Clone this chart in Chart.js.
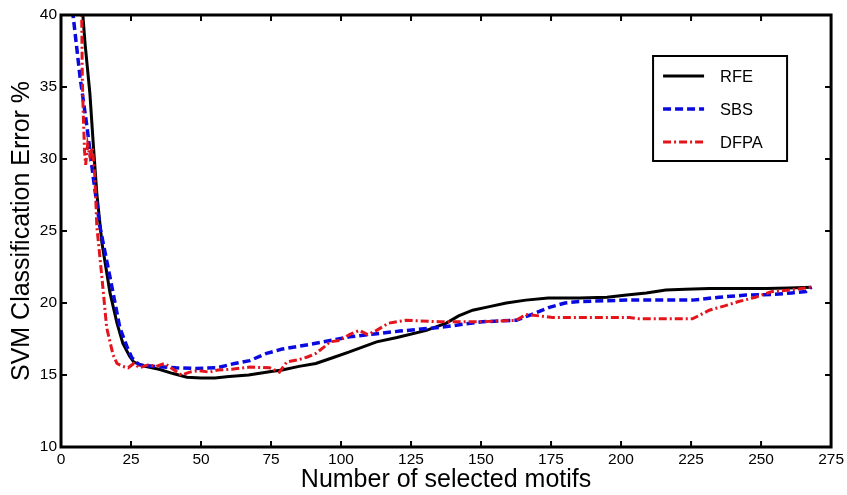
<!DOCTYPE html>
<html>
<head>
<meta charset="utf-8">
<script src="https://cdn.jsdelivr.net/npm/chart.js@4/dist/chart.umd.min.js"></script>
<style>
  html, body { margin: 0; padding: 0; background: #fff; }
  #wrap { width: 847px; height: 495px; position: relative; }
</style>
</head>
<body>
<div id="wrap"><canvas id="c"></canvas></div>
<script>
// ---- data ----
const seriesNames = ['RFE', 'SBS', 'DFPA'];
const xTicks = [0, 25, 50, 75, 100, 125, 150, 175, 200, 225, 250, 275];
const yTicks = [10, 15, 20, 25, 30, 35, 40];

const rfeX = [7, 7.8, 8.6, 10.3, 11.5, 12.8, 14.6, 17.5, 20, 22.1, 24.5, 26, 30, 35, 40, 45, 50, 55, 60, 67, 75, 79, 85, 91, 97, 103, 112.7, 120, 130.5, 137.6, 142, 147, 153, 159, 166, 174, 185, 195, 202, 209, 216, 223, 231.5, 240, 252, 260, 268];
const rfeY = [41.5, 40, 38, 34.6, 31.1, 27.6, 24.2, 20.7, 18.6, 17.2, 16.3, 15.9, 15.6, 15.4, 15.1, 14.85, 14.8, 14.8, 14.9, 15.0, 15.25, 15.35, 15.6, 15.8, 16.2, 16.6, 17.3, 17.6, 18.1, 18.6, 19.1, 19.5, 19.75, 20.0, 20.2, 20.35, 20.35, 20.4, 20.55, 20.7, 20.9, 20.95, 21.0, 21.0, 21.0, 21.05, 21.1];

const sbsX = [3.5, 4.3, 6.8, 9.3, 11.5, 13.9, 17.5, 21, 23.5, 25.3, 28, 33, 41, 48, 55.6, 62, 67.4, 73.4, 79, 91, 103, 112, 121, 135, 150.5, 162.6, 168, 174.4, 180, 185, 202, 225.5, 235, 244.6, 255, 261, 266, 268];
const sbsY = [42, 40, 35.7, 32.2, 28.75, 25.3, 21.8, 18.3, 17.0, 16.2, 15.7, 15.6, 15.5, 15.45, 15.5, 15.8, 16.0, 16.5, 16.8, 17.2, 17.65, 17.85, 18.05, 18.3, 18.7, 18.8, 19.2, 19.7, 20.0, 20.1, 20.2, 20.2, 20.4, 20.55, 20.6, 20.7, 20.8, 21.1];

const dfpaX = [6.8, 7.4, 7.6, 7.9, 8.4, 8.8, 9.5, 10.3, 11.2, 12.1, 12.8, 14.6, 16.3, 18.6, 20, 22, 24, 26, 28, 31, 34, 37, 40, 43, 46, 49, 53, 56, 61, 67.4, 74.5, 78, 80.6, 84.6, 88, 91, 94, 96, 99.5, 103, 106.6, 109.5, 112.7, 117, 123, 135, 150.5, 162.6, 166, 171, 175.5, 185, 203, 206.5, 225.5, 231.5, 237, 242, 248, 254, 260, 268];
const dfpaY = [43, 40, 35.7, 33.4, 30.6, 29.6, 31.0, 30.2, 30.8, 28.75, 25.3, 21.8, 18.3, 16.4, 15.8, 15.6, 15.5, 15.8, 15.5, 15.7, 15.6, 15.8, 15.4, 15.0, 15.2, 15.3, 15.2, 15.35, 15.4, 15.55, 15.5, 15.2, 15.9, 16.05, 16.25, 16.5, 16.95, 17.3, 17.4, 17.8, 18.1, 17.8, 18.1, 18.6, 18.8, 18.7, 18.7, 18.8, 19.2, 19.1, 19.0, 19.0, 19.0, 18.9, 18.9, 19.5, 19.8, 20.1, 20.4, 20.8, 20.9, 21.1];

const xTitle = 'Number of selected motifs';
const yTitle = 'SVM Classification Error %';

function pts(xs, ys) { return xs.map((x, i) => ({ x: x, y: ys[i] })); }

const FONT = '"Liberation Sans", Arial, Helvetica, sans-serif';

// frame with inward ticks (MATLAB style)
const framePlugin = {
  id: 'frame',
  afterDraw(chart) {
    const { ctx, chartArea: a, scales } = chart;
    const xs = scales.x, ys = scales.y;
    ctx.save();
    ctx.strokeStyle = '#000';
    ctx.lineWidth = 2;
    const tl = 6;
    ctx.beginPath();
    xTicks.forEach(v => {
      const px = xs.getPixelForValue(v);
      if (v === xTicks[0] || v === xTicks[xTicks.length - 1]) return;
      ctx.moveTo(px, a.bottom); ctx.lineTo(px, a.bottom - tl);
      ctx.moveTo(px, a.top); ctx.lineTo(px, a.top + tl);
    });
    yTicks.forEach(v => {
      const py = ys.getPixelForValue(v);
      if (v === yTicks[0] || v === yTicks[yTicks.length - 1]) return;
      ctx.moveTo(a.left, py); ctx.lineTo(a.left + tl, py);
      ctx.moveTo(a.right, py); ctx.lineTo(a.right - tl, py);
    });
    ctx.stroke();
    ctx.lineWidth = 3;
    ctx.strokeRect(a.left, a.top, a.right - a.left, a.bottom - a.top);
    ctx.restore();
  }
};

// legend box inside the plot
const legendPlugin = {
  id: 'boxLegend',
  afterDraw(chart) {
    const { ctx, chartArea: a } = chart;
    const bw = 134, bh = 105;
    const bx = a.right - 44 - bw, by = a.top + 41;
    ctx.save();
    ctx.fillStyle = '#fff';
    ctx.fillRect(bx, by, bw, bh);
    ctx.strokeStyle = '#000';
    ctx.lineWidth = 2;
    ctx.strokeRect(bx, by, bw, bh);
    const rowY = [20, 53, 86];
    ctx.font = '16.5px ' + FONT;
    ctx.textBaseline = 'middle';
    ctx.textAlign = 'left';
    seriesNames.forEach((name, i) => {
      const ds = chart.data.datasets.find(d => d.label === name);
      const y = by + rowY[i];
      ctx.beginPath();
      ctx.strokeStyle = ds.borderColor;
      ctx.lineWidth = ds.borderWidth;
      ctx.setLineDash(ds.borderDash || []);
      ctx.moveTo(bx + 10, y);
      ctx.lineTo(bx + 51, y);
      ctx.stroke();
      ctx.setLineDash([]);
      ctx.fillStyle = '#000';
      ctx.fillText(name, bx + 67, y + 1);
    });
    ctx.restore();
  }
};

new Chart(document.getElementById('c'), {
  type: 'line',
  data: {
    datasets: [
      { label: seriesNames[0], data: pts(rfeX, rfeY), borderColor: '#000000', borderWidth: 3, pointRadius: 0, tension: 0, fill: false, order: 3 },
      { label: seriesNames[1], data: pts(sbsX, sbsY), borderColor: '#0a0ae0', borderWidth: 3.5, borderDash: [8, 4], pointRadius: 0, tension: 0, fill: false, order: 2 },
      { label: seriesNames[2], data: pts(dfpaX, dfpaY), borderColor: '#e3141c', borderWidth: 3, borderDash: [8, 3, 2, 3], pointRadius: 0, tension: 0, fill: false, order: 1 }
    ]
  },
  options: {
    responsive: true,
    maintainAspectRatio: false,
    animation: false,
    layout: { padding: { top: 15, right: 15, left: 0, bottom: 0 } },
    plugins: { legend: { display: false }, tooltip: { enabled: false } },
    scales: {
      x: {
        type: 'linear', min: 0, max: 275,
        afterBuildTicks(s) { s.ticks = xTicks.map(v => ({ value: v })); },
        afterFit(s) { s.height = 48; },
        grid: { display: false, drawTicks: false },
        border: { display: false },
        ticks: { color: '#000', padding: 3, maxRotation: 0, autoSkip: false, font: { family: FONT, size: 15.5 } },
        title: { display: true, text: xTitle, color: '#000', font: { family: FONT, size: 25, lineHeight: 1.2 }, padding: { top: 0, bottom: 0 } }
      },
      y: {
        type: 'linear', min: 10, max: 40,
        afterBuildTicks(s) { s.ticks = yTicks.map(v => ({ value: v })); },
        afterFit(s) { s.width = 61; },
        grid: { display: false, drawTicks: false },
        border: { display: false },
        ticks: { color: '#000', padding: 4, autoSkip: false, font: { family: FONT, size: 15.5 } },
        title: { display: true, text: yTitle, color: '#000', font: { family: FONT, size: 25, lineHeight: 1.2 }, padding: { top: 7, bottom: 0 } }
      }
    }
  },
  plugins: [framePlugin, legendPlugin]
});
</script>
</body>
</html>
